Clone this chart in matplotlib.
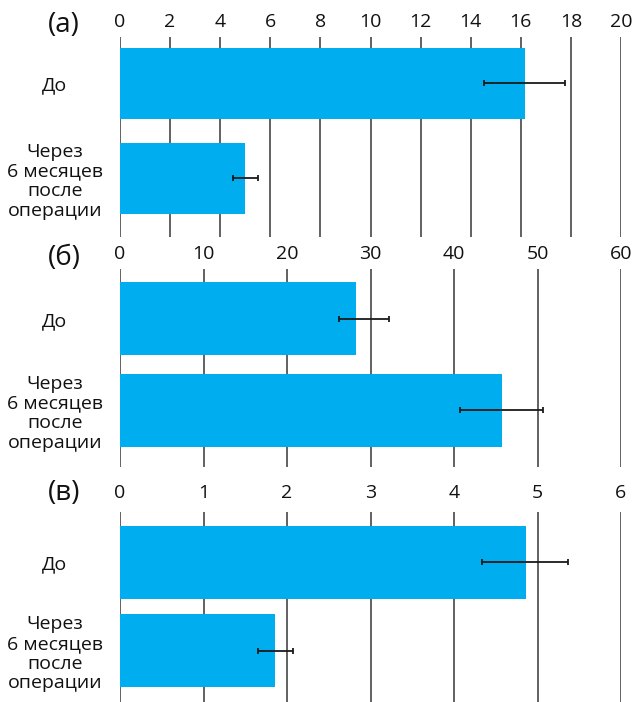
import matplotlib
matplotlib.use("Agg")
import matplotlib.pyplot as plt
import numpy as np

plt.rcParams['font.family'] = ['Open Sans', 'DejaVu Sans']

categories = ["До", "Через\n6 месяцев\nпосле\nоперации"]
panel_labels = ["(а)", "(б)", "(в)"]

values_a = [16.15, 5.0]
err_a_low = [1.6, 0.5]
err_a_high = [1.6, 0.5]
ticks_a = [0, 2, 4, 6, 8, 10, 12, 14, 16, 18, 20]

values_b = [28.3, 45.7]
err_b_low = [2.1, 5.0]
err_b_high = [3.9, 5.0]
ticks_b = [0, 10, 20, 30, 40, 50, 60]

values_c = [4.86, 1.86]
err_c_low = [0.53, 0.21]
err_c_high = [0.5, 0.21]
ticks_c = [0, 1, 2, 3, 4, 5, 6]

W, H = 633, 702
fig = plt.figure(figsize=(W / 100, H / 100), dpi=100)

bar_color = '#00AEEF'
grid_color = '#555555'

# (top_px, bottom_px, ylim_top, ylim_bottom, bar_height, tickpad, label_y)
layouts = [
    (37, 237, -0.49, 1.62, 0.75, 4, 25),
    (269, 467, -0.546, 1.62, 0.80, 4, 258),
    (512, 702, -0.565, 1.576, 0.825, 7, 493),
]
datasets = [
    (values_a, err_a_low, err_a_high, ticks_a),
    (values_b, err_b_low, err_b_high, ticks_b),
    (values_c, err_c_low, err_c_high, ticks_c),
]

left_px, right_px = 120, 621
for (top, bot, yt, yb, bh, tpad, ly), (vals, elo, ehi, ticks), plab in zip(layouts, datasets, panel_labels):
    ax = fig.add_axes([left_px / W, 1 - bot / H, (right_px - left_px) / W, (bot - top) / H])
    y = np.arange(len(categories))
    ax.barh(y, vals, height=bh, color=bar_color, zorder=3)
    ax.errorbar(vals, y, xerr=[elo, ehi], fmt='none', ecolor='#1a1a1a',
                elinewidth=1.3, capsize=2.2, capthick=1.3, zorder=4)
    ax.set_xlim(ticks[0], ticks[-1])
    ax.set_ylim(yb, yt)
    ax.set_xticks(ticks)
    ax.set_xticklabels([str(t) for t in ticks])
    ax.xaxis.tick_top()
    ax.tick_params(axis='x', length=0, pad=tpad, labelsize=14, colors='#111111')
    ax.set_yticks(y)
    ax.set_yticklabels(categories, fontsize=14, ha='center', multialignment='center',
                       linespacing=1.12, color='#111111')
    ax.tick_params(axis='y', length=0, pad=47)
    for t in ticks:
        ax.axvline(t, color=grid_color, linewidth=1.3, zorder=1)
    for s in ax.spines.values():
        s.set_visible(False)
    fig.text(64 / W, 1 - ly / H, plab, fontsize=20, ha='center', va='center', color='#111111')

fig.savefig("out.png", dpi=100)
